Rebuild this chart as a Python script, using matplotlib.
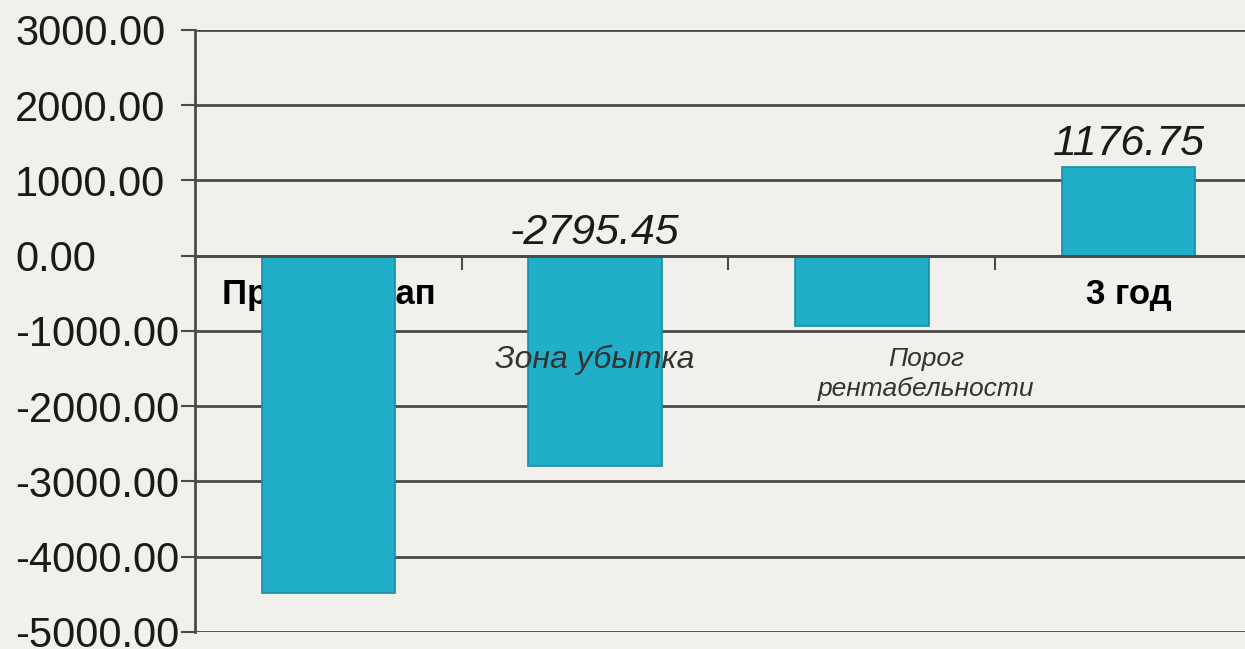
import matplotlib.pyplot as plt
from matplotlib.ticker import FormatStrFormatter, FixedLocator

categories = ["Проект. этап", "1 год", "2 год", "3 год"]
values = [-4480.0, -2795.45, -930.0, 1176.75]
shown_labels = {1: "-2795.45", 3: "1176.75"}
y_ticks = [-5000, -4000, -3000, -2000, -1000, 0, 1000, 2000, 3000]

bg = "#F1F0EC"
bar_color = "#21AEC8"
line_color = "#4a4a4a"

plt.rcParams["font.family"] = ["Liberation Sans", "DejaVu Sans"]

fig = plt.figure(figsize=(12.45, 6.49), dpi=100, facecolor=bg)
ax = fig.add_axes([0.1566, 0.0262, 0.857, 0.9276], facecolor=bg)

x = list(range(len(categories)))
ax.bar(x, values, width=0.5, color=bar_color, edgecolor="#1B8DA3",
       linewidth=1.2, zorder=2)

ax.set_xlim(-0.5, 3.5)
ax.set_ylim(-5000, 3000)
ax.set_axisbelow(True)

# y axis
ax.set_yticks(y_ticks)
ax.yaxis.set_major_formatter(FormatStrFormatter("%.2f"))
ax.tick_params(axis="y", length=10, width=1.5, color=line_color,
               labelsize=30, pad=119.5, labelcolor="#1a1a1a")
for lab in ax.get_yticklabels():
    lab.set_horizontalalignment("left")
ax.yaxis.grid(True, color=line_color, linewidth=2)

# x axis sits at zero, ticks at category boundaries, labels at centers
ax.spines["bottom"].set_position(("data", 0))
ax.spines["bottom"].set_color(line_color)
ax.spines["bottom"].set_linewidth(2)
ax.spines["left"].set_color(line_color)
ax.spines["left"].set_linewidth(2)
ax.spines["top"].set_visible(False)
ax.spines["right"].set_visible(False)
ax.xaxis.set_major_locator(FixedLocator([0.5, 1.5, 2.5]))
ax.xaxis.set_minor_locator(FixedLocator(x))
ax.set_xticklabels([], minor=False)
ax.set_xticklabels(categories, minor=True, fontweight="bold", fontsize=25)
ax.tick_params(axis="x", which="major", length=10, width=1.5, color=line_color)
ax.tick_params(axis="x", which="minor", length=0, pad=16)

# value labels
for i, txt in shown_labels.items():
    ax.annotate(txt, (i, max(values[i], 0)), xytext=(0, 2), textcoords="offset points",
                ha="center", va="bottom", fontsize=31, style="italic",
                color="#1a1a1a", zorder=4)

ax.text(1, -1380, "Зона убытка", ha="center", va="center", fontsize=23,
        style="italic", color="#333333", zorder=4)
ax.text(2.24, -1570, "Порог\nрентабельности", ha="center", va="center",
        fontsize=19, style="italic", color="#333333", linespacing=1.3, zorder=4)

fig.savefig("out.png", dpi=100, facecolor=bg)
